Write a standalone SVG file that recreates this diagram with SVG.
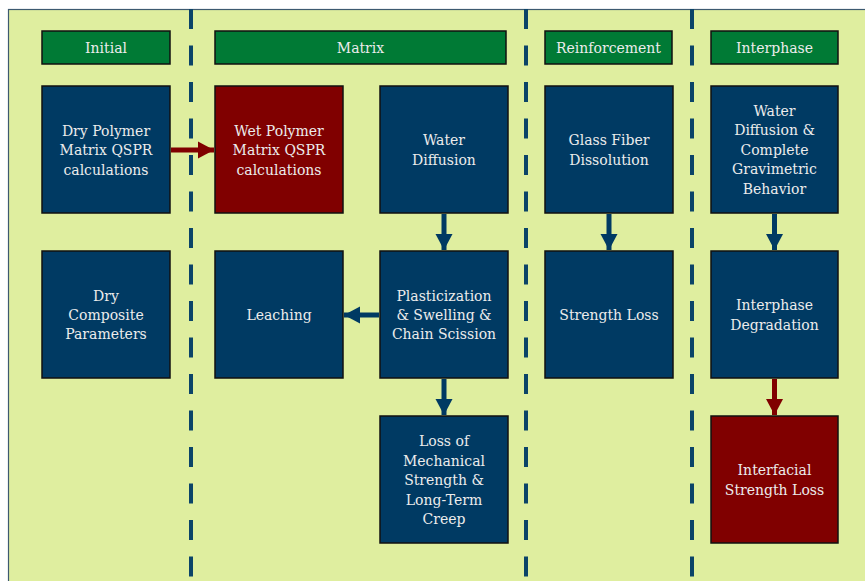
<svg xmlns="http://www.w3.org/2000/svg" width="865" height="581" viewBox="0 0 865 581">
<style>
.hdr{fill:#007a35;stroke:#111;stroke-width:1.5}
.nb{fill:#003a63;stroke:#111;stroke-width:1.5}
.nr{fill:#800000;stroke:#111;stroke-width:1.5}
text{font-family:"DejaVu Serif","Liberation Serif",serif;font-size:14px;fill:#ececec;text-anchor:middle}
.dash{stroke:#0b4468;stroke-width:4;stroke-dasharray:20 16.5}
.ab{stroke:#003a63;stroke-width:5;fill:none}
.ar{stroke:#800000;stroke-width:5;fill:none}
</style>
<defs>
<marker id="hb" markerWidth="4" markerHeight="4" refX="3.2" refY="2" orient="auto" markerUnits="strokeWidth" viewBox="0 0 4 4"><path d="M0,0.3 L3.2,2 L0,3.7 Z" fill="#003a63"/></marker>
<marker id="hr" markerWidth="4" markerHeight="4" refX="3.2" refY="2" orient="auto" markerUnits="strokeWidth" viewBox="0 0 4 4"><path d="M0,0.3 L3.2,2 L0,3.7 Z" fill="#800000"/></marker>
</defs>
<rect x="8.5" y="9.5" width="870" height="580" fill="#dfee9f" stroke="#3d5a70" stroke-width="1.2"/>
<g id="dividers">
<line class="dash" x1="191" y1="9" x2="191" y2="581"/>
<line class="dash" x1="526" y1="9" x2="526" y2="581"/>
<line class="dash" x1="692" y1="9" x2="692" y2="581"/>
</g>
<g id="h-initial"><rect class="hdr" x="42" y="31" width="128" height="33"/><text x="106" y="53">Initial</text></g>
<g id="h-matrix"><rect class="hdr" x="215" y="31" width="291" height="33"/><text x="360.5" y="53">Matrix</text></g>
<g id="h-reinf"><rect class="hdr" x="545" y="31" width="127" height="33"/><text x="608.5" y="53">Reinforcement</text></g>
<g id="h-inter"><rect class="hdr" x="711" y="31" width="127" height="33"/><text x="774.5" y="53">Interphase</text></g>

<g id="dry-polymer"><rect class="nb" x="42" y="86" width="128" height="127"/><text x="106" y="136">Dry Polymer</text><text x="106" y="155">Matrix QSPR</text><text x="106" y="175">calculations</text></g>
<g id="wet-polymer"><rect class="nr" x="215" y="86" width="128" height="127"/><text x="279" y="136">Wet Polymer</text><text x="279" y="155">Matrix QSPR</text><text x="279" y="175">calculations</text></g>
<g id="water-diffusion"><rect class="nb" x="380" y="86" width="128" height="127"/><text x="444" y="145">Water</text><text x="444" y="165">Diffusion</text></g>
<g id="glass-fiber"><rect class="nb" x="545" y="86" width="128" height="127"/><text x="609" y="145">Glass Fiber</text><text x="609" y="165">Dissolution</text></g>
<g id="water-diff-grav"><rect class="nb" x="711" y="86" width="127" height="127"/><text x="774.5" y="116">Water</text><text x="774.5" y="135">Diffusion &amp;</text><text x="774.5" y="155">Complete</text><text x="774.5" y="174">Gravimetric</text><text x="774.5" y="194">Behavior</text></g>

<g id="dry-composite"><rect class="nb" x="42" y="251" width="128" height="127"/><text x="106" y="301">Dry</text><text x="106" y="320">Composite</text><text x="106" y="339">Parameters</text></g>
<g id="leaching"><rect class="nb" x="215" y="251" width="128" height="127"/><text x="279" y="320">Leaching</text></g>
<g id="plasticization"><rect class="nb" x="380" y="251" width="128" height="127"/><text x="444" y="301">Plasticization</text><text x="444" y="320">&amp; Swelling &amp;</text><text x="444" y="339">Chain Scission</text></g>
<g id="strength-loss"><rect class="nb" x="545" y="251" width="128" height="127"/><text x="609" y="320">Strength Loss</text></g>
<g id="interphase-deg"><rect class="nb" x="711" y="251" width="127" height="127"/><text x="774.5" y="310">Interphase</text><text x="774.5" y="330">Degradation</text></g>

<g id="loss-mech"><rect class="nb" x="380" y="416" width="128" height="127"/><text x="444" y="446">Loss of</text><text x="444" y="466">Mechanical</text><text x="444" y="485">Strength &amp;</text><text x="444" y="505">Long-Term</text><text x="444" y="524">Creep</text></g>
<g id="interfacial"><rect class="nr" x="711" y="416" width="127" height="127"/><text x="774.5" y="475">Interfacial</text><text x="774.5" y="495">Strength Loss</text></g>

<g id="connectors">
<line class="ar" x1="171" y1="150" x2="214" y2="150" marker-end="url(#hr)"/>
<line class="ab" x1="444" y1="214" x2="444" y2="250" marker-end="url(#hb)"/>
<line class="ab" x1="379" y1="315" x2="344" y2="315" marker-end="url(#hb)"/>
<line class="ab" x1="444" y1="379" x2="444" y2="415" marker-end="url(#hb)"/>
<line class="ab" x1="609" y1="214" x2="609" y2="250" marker-end="url(#hb)"/>
<line class="ab" x1="774.5" y1="214" x2="774.5" y2="250" marker-end="url(#hb)"/>
<line class="ar" x1="774.5" y1="379" x2="774.5" y2="415" marker-end="url(#hr)"/>
</g>
</svg>
